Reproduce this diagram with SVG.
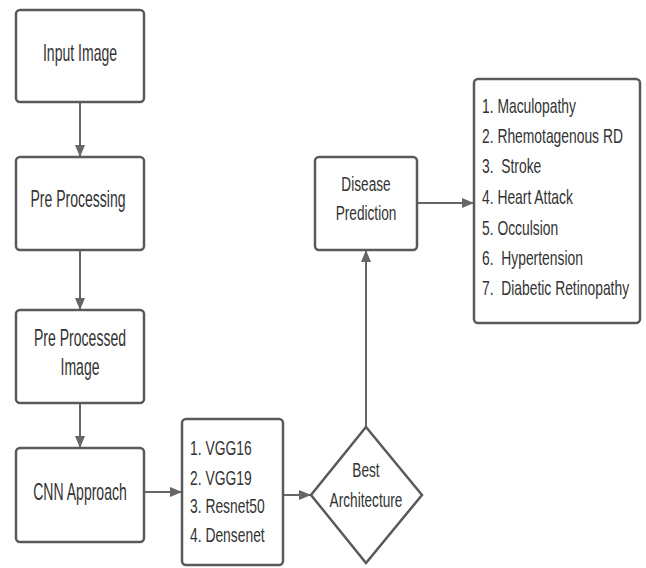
<svg xmlns="http://www.w3.org/2000/svg" width="646" height="568" viewBox="0 0 646 568">
<defs>
<style>
.box{fill:#fff;stroke:#5a5a5a;stroke-width:2.5}
.t{font-family:"Liberation Sans",Arial,sans-serif;fill:#333;}
.big{font-size:23px;text-anchor:middle}
.mid{font-size:21px;text-anchor:middle}
.lst{font-size:21px}
.con{stroke:#666;stroke-width:2;fill:none;marker-end:url(#ah)}
</style>
<marker id="ah" markerUnits="userSpaceOnUse" markerWidth="12" markerHeight="10" refX="12" refY="5" orient="auto">
<path d="M0,0 L12,5 L0,10 z" fill="#666"/>
</marker>
</defs>
<rect width="646" height="568" fill="#fff"/>
<g id="connectors">
<line class="con" x1="80" y1="102" x2="80" y2="157"/>
<line class="con" x1="80" y1="250" x2="80" y2="310"/>
<line class="con" x1="80" y1="403" x2="80" y2="448"/>
<line class="con" x1="144" y1="492" x2="182" y2="492"/>
<line class="con" x1="283" y1="495" x2="311" y2="495"/>
<line class="con" x1="366" y1="427" x2="366" y2="250"/>
<line class="con" x1="417" y1="203" x2="474" y2="203"/>
</g>
<g id="input-image">
<rect class="box" x="16" y="10" width="128" height="92" rx="4"/>
<text class="t big" transform="translate(80,61) scale(0.61,1)">Input Image</text>
</g>
<g id="pre-processing">
<rect class="box" x="16" y="157" width="128" height="93" rx="4"/>
<text class="t big" transform="translate(78,207) scale(0.61,1)">Pre Processing</text>
</g>
<g id="pre-processed-image">
<rect class="box" x="16" y="310" width="128" height="93" rx="4"/>
<text class="t big" transform="translate(80,346) scale(0.61,1)">Pre Processed</text>
<text class="t big" transform="translate(80,375) scale(0.61,1)">Image</text>
</g>
<g id="cnn-approach">
<rect class="box" x="16" y="448" width="128" height="94" rx="4"/>
<text class="t big" transform="translate(80,500) scale(0.61,1)">CNN Approach</text>
</g>
<g id="models">
<rect class="box" x="182" y="419" width="101" height="146" rx="4"/>
<text class="t lst" transform="translate(190,455) scale(0.66,1)">1. VGG16</text>
<text class="t lst" transform="translate(190,485) scale(0.66,1)">2. VGG19</text>
<text class="t lst" transform="translate(190,513) scale(0.66,1)">3. Resnet50</text>
<text class="t lst" transform="translate(190,542) scale(0.66,1)">4. Densenet</text>
</g>
<g id="best-architecture">
<polygon class="box" points="366,427 422,495 366,563 311,495"/>
<text class="t mid" transform="translate(366,477) scale(0.65,1)">Best</text>
<text class="t mid" transform="translate(366,507) scale(0.65,1)">Architecture</text>
</g>
<g id="disease-prediction">
<rect class="box" x="315" y="157" width="102" height="93" rx="4"/>
<text class="t mid" transform="translate(366,191) scale(0.65,1)">Disease</text>
<text class="t mid" transform="translate(366,220) scale(0.65,1)">Prediction</text>
</g>
<g id="diseases">
<rect class="box" x="474" y="79" width="166" height="244" rx="4"/>
<text class="t lst" transform="translate(482,113) scale(0.66,1)">1. Maculopathy</text>
<text class="t lst" transform="translate(482,143) scale(0.66,1)">2. Rhemotagenous RD</text>
<text class="t lst" transform="translate(482,173) scale(0.66,1)" xml:space="preserve">3.  Stroke</text>
<text class="t lst" transform="translate(482,204) scale(0.66,1)">4. Heart Attack</text>
<text class="t lst" transform="translate(482,235) scale(0.66,1)">5. Occulsion</text>
<text class="t lst" transform="translate(482,265) scale(0.66,1)" xml:space="preserve">6.  Hypertension</text>
<text class="t lst" transform="translate(482,295) scale(0.66,1)" xml:space="preserve">7.  Diabetic Retinopathy</text>
</g>
</svg>
